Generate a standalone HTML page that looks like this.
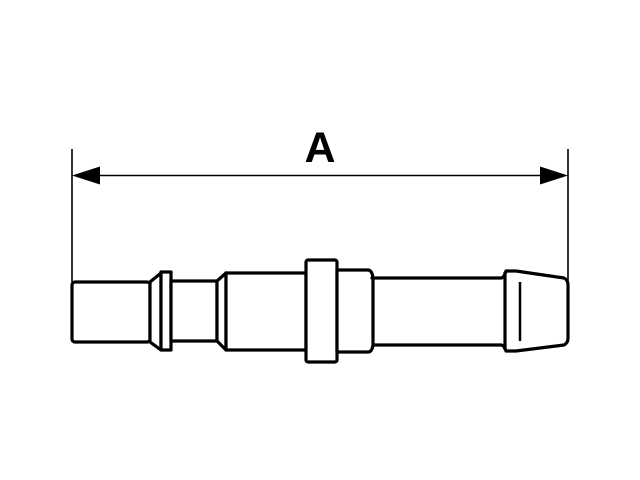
<!DOCTYPE html>
<html><head><style>html,body{margin:0;padding:0;background:#fff;}svg{display:block}</style></head>
<body>
<svg width="640" height="480" viewBox="0 0 640 480" xmlns="http://www.w3.org/2000/svg">
<rect width="640" height="480" fill="#fff"/>
<g stroke="#000" stroke-width="1.6" fill="none">
<line x1="72" y1="149" x2="72" y2="282"/>
<line x1="568" y1="149" x2="568" y2="282"/>
<line x1="96" y1="175.5" x2="544" y2="175.5"/>
</g>
<polygon points="72,175.5 100,166.5 100,184.5" fill="#000"/>
<polygon points="568,175.5 540,166.5 540,184.5" fill="#000"/>
<text x="320" y="162" font-family="Liberation Sans, sans-serif" font-weight="bold" font-size="43" text-anchor="middle">A</text>
<g stroke="#000" stroke-width="3.2" fill="#fff" stroke-linejoin="round">
<rect x="72" y="282" width="78" height="60" rx="3"/>
<polygon points="150,282 161,273 161,350 150,342"/>
<rect x="161" y="272" width="10" height="78"/>
<rect x="171" y="281" width="46" height="60"/>
<polygon points="217,281 226,273 226,350 217,341"/>
<rect x="226" y="273" width="80" height="77"/>
<rect x="306" y="260" width="31" height="102" rx="2"/>
<path d="M337,270 L368,270 Q372,270 373,278 L372,278 L501,278 Q504,278 506,271 L516,271 L564,278 Q568,280 568,285 L568,338 Q568,343 564,345 L516,351 L506,351 Q504,345 501,345 L373,345 Q372,352 368,352 L337,352 Z"/>
<line x1="373" y1="278" x2="373" y2="345"/>
<line x1="505" y1="272" x2="505" y2="350"/>
<line x1="520" y1="282" x2="520" y2="341" stroke-width="2.5"/>
</g>
</svg>
</body></html>
